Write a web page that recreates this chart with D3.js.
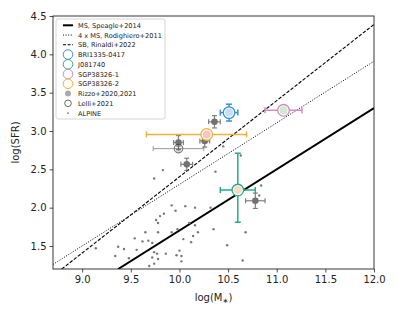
<!DOCTYPE html>
<html>
<head>
<meta charset="utf-8">
<script src="https://d3js.org/d3.v7.min.js"></script>
<style>
body { margin: 0; background: #fff; }
svg { font-family: "DejaVu Sans", sans-serif; }
</style>
</head>
<body>
<div id="chart"></div>
<script>
// ---- data ----
var xTicks = [9.0, 9.5, 10.0, 10.5, 11.0, 11.5, 12.0];
var yTicks = [1.5, 2.0, 2.5, 3.0, 3.5, 4.0, 4.5];

// relations, drawn as two end points each
var msLine = [[9.37, 1.2], [12.0, 3.3]];       // MS, Speagle+2014
var ms4Line = [[8.7, 1.26], [12.0, 3.91]];     // 4 x MS, Rodighiero+2011
var sbLine = [[8.79, 1.2], [12.0, 4.39]];      // SB, Rinaldi+2022

// named sources: x, y, x err low/high, y err low/high
var srcNames = ["BRI1335-0417", "J081740", "SGP38326-1", "SGP38326-2"];
var srcX = [10.51, 10.60, 11.07, 10.28];
var srcY = [3.24, 2.23, 3.27, 2.955];
var srcXlo = [0.09, 0.18, 0.19, 0.62];
var srcXhi = [0.09, 0.18, 0.19, 0.41];
var srcYlo = [0.11, 0.42, 0, 0];
var srcYhi = [0.11, 0.48, 0, 0];
var srcEdge = ["#3a8fd4", "#2aa98a", "#d58cbd", "#efb23a"];
var srcFace = ["#c4e0f4", "#f6dcc6", "#cde9cf", "#f5c4c4"];

// Rizzo+2020,2021
var rizzoX = [10.36, 9.99, 10.26, 10.075, 10.78];
var rizzoY = [3.12, 2.85, 2.87, 2.565, 2.09];
var rizzoXe = [0.06, 0.05, 0.05, 0.06, 0.1];
var rizzoYe = [0.08, 0.09, 0.08, 0.08, 0.1];

// Lelli+2021
var lelliX = [9.99];
var lelliY = [2.77];
var lelliXe = [0.26];

// ALPINE
var alpineX = [9.83, 9.74, 10.37, 10.45, 10.63, 10.84, 10.82, 9.92, 9.96, 10.06, 10.16, 10.32,
  9.84, 9.80, 9.76, 9.78, 10.10, 10.16, 9.98, 10.35, 9.65, 9.78, 9.92, 10.19, 10.68, 9.54,
  10.04, 10.14, 9.62, 9.68, 9.72, 10.12, 10.49, 9.14, 9.37, 9.43, 9.56, 9.74, 9.77, 9.86,
  10.00, 9.34, 9.48, 9.72, 9.78, 9.97, 10.02, 10.02, 10.65, 9.74, 9.69];
var alpineY = [2.49, 2.38, 2.47, 2.80, 2.68, 2.29, 2.16, 2.03, 1.96, 2.02, 2.00, 2.00,
  1.92, 1.89, 1.84, 1.80, 1.80, 1.77, 1.72, 1.72, 1.68, 1.68, 1.68, 1.68, 1.68, 1.60,
  1.59, 1.63, 1.56, 1.57, 1.54, 1.55, 1.51, 1.47, 1.49, 1.46, 1.45, 1.42, 1.40, 1.40,
  1.44, 1.37, 1.34, 1.35, 1.33, 1.38, 1.37, 1.30, 1.31, 1.27, 1.24];

// ---- layout ----
var W = 399, H = 319;
var m = {left: 53, right: 25, top: 16, bottom: 50};

var svg = d3.select("#chart").append("svg")
  .attr("width", W)
  .attr("height", H);

var x = d3.scaleLinear().domain([8.7, 12.0]).range([m.left, W - m.right]);
var y = d3.scaleLinear().domain([1.2, 4.5]).range([H - m.bottom, m.top]);

var defs = svg.append("defs");
defs.append("clipPath").attr("id", "clip")
  .append("rect")
  .attr("x", m.left).attr("y", m.top)
  .attr("width", W - m.left - m.right)
  .attr("height", H - m.top - m.bottom);

var plot = svg.append("g").attr("clip-path", "url(#clip)");
var line = d3.line().x(function(d) { return x(d[0]); }).y(function(d) { return y(d[1]); });

// relations
plot.append("path").attr("d", line(msLine))
  .attr("stroke", "#000").attr("stroke-width", 2).attr("fill", "none");
plot.append("path").attr("d", line(ms4Line))
  .attr("stroke", "#000").attr("stroke-width", 1).attr("stroke-dasharray", "1,1.6").attr("fill", "none");
plot.append("path").attr("d", line(sbLine))
  .attr("stroke", "#000").attr("stroke-width", 1.1).attr("stroke-dasharray", "3.5,1.6").attr("fill", "none");

// ALPINE dots
plot.selectAll(".alp").data(alpineX).enter().append("circle")
  .attr("cx", function(d) { return x(d); })
  .attr("cy", function(d, i) { return y(alpineY[i]); })
  .attr("r", 1.2)
  .attr("fill", "#777");

// helper for error bars
function errbar(g, cx, cy, xlo, xhi, ylo, yhi, col, sw, cap) {
  if (xlo > 0 || xhi > 0) {
    g.append("line").attr("x1", x(cx - xlo)).attr("x2", x(cx + xhi))
      .attr("y1", y(cy)).attr("y2", y(cy)).attr("stroke", col).attr("stroke-width", sw);
    [cx - xlo, cx + xhi].forEach(function(v) {
      g.append("line").attr("x1", x(v)).attr("x2", x(v))
        .attr("y1", y(cy) - cap).attr("y2", y(cy) + cap).attr("stroke", col).attr("stroke-width", sw);
    });
  }
  if (ylo > 0 || yhi > 0) {
    g.append("line").attr("x1", x(cx)).attr("x2", x(cx))
      .attr("y1", y(cy - ylo)).attr("y2", y(cy + yhi)).attr("stroke", col).attr("stroke-width", sw);
    [cy - ylo, cy + yhi].forEach(function(v) {
      g.append("line").attr("y1", y(v)).attr("y2", y(v))
        .attr("x1", x(cx) - cap).attr("x2", x(cx) + cap).attr("stroke", col).attr("stroke-width", sw);
    });
  }
}

// Lelli
var lg = plot.append("g");
lelliX.forEach(function(v, i) {
  errbar(lg, v, lelliY[i], lelliXe[i], lelliXe[i], 0.03, 0.03, "#999", 1, 2.5);
  lg.append("circle").attr("cx", x(v)).attr("cy", y(lelliY[i])).attr("r", 4.2)
    .attr("fill", "none").attr("stroke", "#777").attr("stroke-width", 1.2);
});

// Rizzo
var rg = plot.append("g").attr("opacity", 0.75);
rizzoX.forEach(function(v, i) {
  errbar(rg, v, rizzoY[i], rizzoXe[i], rizzoXe[i], rizzoYe[i], rizzoYe[i], "#555", 1.2, 2.5);
  rg.append("circle").attr("cx", x(v)).attr("cy", y(rizzoY[i])).attr("r", 3.3).attr("fill", "#444");
});

// named sources
var sg = plot.append("g");
srcNames.forEach(function(n, i) {
  errbar(sg, srcX[i], srcY[i], srcXlo[i], srcXhi[i], srcYlo[i], srcYhi[i], srcEdge[i], 1.5, 3);
  sg.append("circle").attr("cx", x(srcX[i])).attr("cy", y(srcY[i])).attr("r", 5.8)
    .attr("fill", "#fff").attr("stroke", srcEdge[i]).attr("stroke-width", 1.3);
  sg.append("circle").attr("cx", x(srcX[i])).attr("cy", y(srcY[i])).attr("r", 4)
    .attr("fill", srcFace[i]);
});

// axes
var xAxis = svg.append("g").attr("transform", "translate(0," + (H - m.bottom) + ")")
  .call(d3.axisBottom(x).tickValues(xTicks).tickFormat(d3.format(".1f")).tickSize(3.5).tickPadding(3));
var yAxis = svg.append("g").attr("transform", "translate(" + m.left + ",0)")
  .call(d3.axisLeft(y).tickValues(yTicks).tickFormat(d3.format(".1f")).tickSize(3.5).tickPadding(3));
[xAxis, yAxis].forEach(function(a) {
  a.select(".domain").remove();
  a.selectAll("text").attr("font-size", 10).attr("fill", "#222").attr("font-family", "DejaVu Sans");
  a.selectAll("line").attr("stroke", "#222").attr("stroke-width", 0.8);
});

svg.append("rect")
  .attr("x", m.left).attr("y", m.top)
  .attr("width", W - m.left - m.right).attr("height", H - m.top - m.bottom)
  .attr("fill", "none").attr("stroke", "#222").attr("stroke-width", 0.9);

var xl = svg.append("text").attr("x", (m.left + W - m.right) / 2).attr("y", H - m.bottom + 32)
  .attr("text-anchor", "middle").attr("font-size", 10).attr("fill", "#222");
xl.append("tspan").text("log(M");
xl.append("tspan").attr("font-size", 7).attr("dy", 2).text("\u2217");
xl.append("tspan").attr("dy", -2).text(")");
svg.append("text").attr("transform", "translate(19," + ((m.top + H - m.bottom) / 2) + ") rotate(-90)")
  .attr("text-anchor", "middle").attr("font-size", 10).attr("fill", "#222")
  .text("log(SFR)");

// legend
var leg = svg.append("g").attr("transform", "translate(56,19)");
leg.append("rect").attr("width", 109).attr("height", 100).attr("rx", 2)
  .attr("fill", "#fff").attr("fill-opacity", 0.85).attr("stroke", "#ccc").attr("stroke-width", 0.8);
var legLabels = ["MS, Speagle+2014", "4 x MS, Rodighiero+2011", "SB, Rinaldi+2022"]
  .concat(srcNames).concat(["Rizzo+2020,2021", "Lelli+2021", "ALPINE"]);
legLabels.forEach(function(t, i) {
  var ry = 6.3 + i * 9.75;
  var row = leg.append("g").attr("transform", "translate(0," + ry + ")");
  if (i === 0) row.append("line").attr("x1", 7).attr("x2", 17).attr("stroke", "#000").attr("stroke-width", 2);
  if (i === 1) row.append("line").attr("x1", 7).attr("x2", 17).attr("stroke", "#000").attr("stroke-width", 1).attr("stroke-dasharray", "1,1.6");
  if (i === 2) row.append("line").attr("x1", 7).attr("x2", 17).attr("stroke", "#000").attr("stroke-width", 1.1).attr("stroke-dasharray", "3,1.6");
  if (i >= 3 && i <= 6) row.append("circle").attr("cx", 12).attr("r", 4.8)
    .attr("fill", "none").attr("stroke", srcEdge[i - 3]).attr("stroke-width", 1);
  if (i === 7) row.append("circle").attr("cx", 12).attr("r", 3).attr("fill", "#aaa");
  if (i === 8) row.append("circle").attr("cx", 12).attr("r", 3.3).attr("fill", "none").attr("stroke", "#666").attr("stroke-width", 1);
  if (i === 9) row.append("circle").attr("cx", 12).attr("r", 0.9).attr("fill", "#777");
  row.append("text").attr("x", 22).attr("y", 2.5).attr("font-size", 6.6).attr("fill", "#222").text(t);
});
</script>
</body>
</html>
